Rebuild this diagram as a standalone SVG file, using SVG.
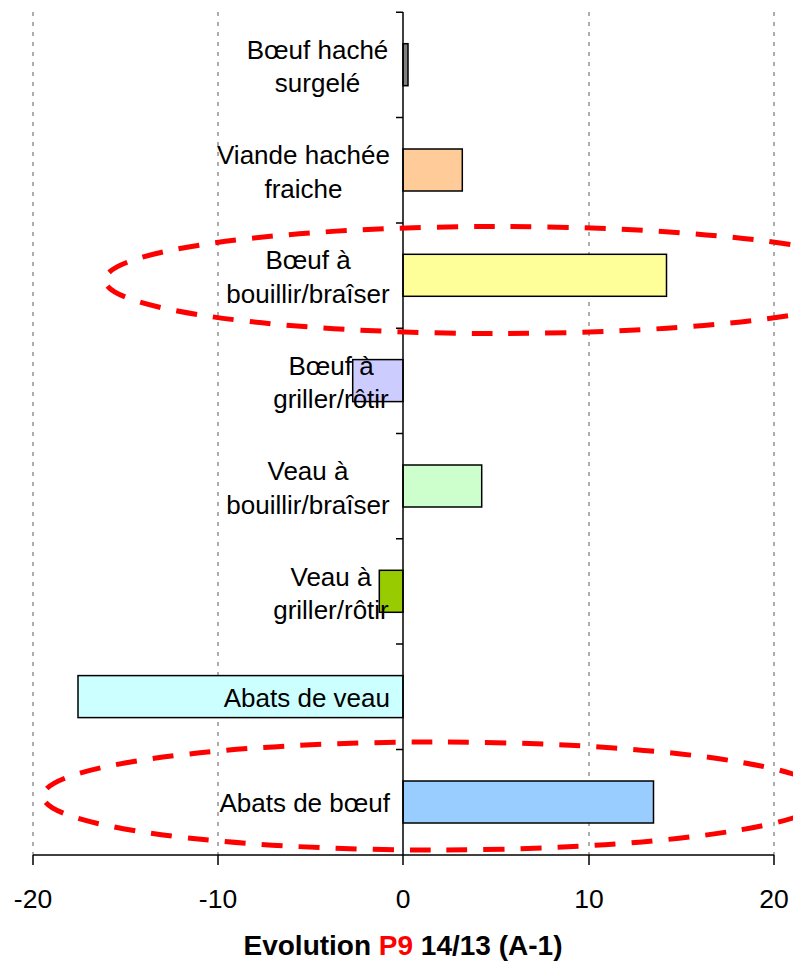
<svg xmlns="http://www.w3.org/2000/svg" width="793" height="963" viewBox="0 0 793 963">
<style>
  .grid { stroke: #999999; stroke-width: 1.6; stroke-dasharray: 4 6; fill: none; }
  .axis { stroke: #000000; stroke-width: 1.5; fill: none; }
  .bar { stroke: #000000; stroke-width: 1.5; }
  .lbl { font-family: "Liberation Sans", Arial, sans-serif; font-size: 26px; fill: #000000; text-anchor: middle; }
  .lblr { font-family: "Liberation Sans", Arial, sans-serif; font-size: 26px; fill: #000000; text-anchor: end; }
  .tick { font-family: "Liberation Sans", Arial, sans-serif; font-size: 26.5px; fill: #000000; text-anchor: middle; }
  .title { font-family: "Liberation Sans", Arial, sans-serif; font-size: 28px; font-weight: bold; fill: #000000; text-anchor: middle; }
  .hl { fill: none; stroke: #FF0000; stroke-width: 5; stroke-dasharray: 21 16; }
</style>
<rect x="0" y="0" width="793" height="963" fill="#FFFFFF"/>
<g id="gridlines">
  <line class="grid" x1="33" y1="12" x2="33" y2="855"/>
  <line class="grid" x1="218" y1="12" x2="218" y2="855"/>
  <line class="grid" x1="589" y1="12" x2="589" y2="855"/>
  <line class="grid" x1="774" y1="12" x2="774" y2="855"/>
</g>
<g id="bars">
  <g id="n1"><rect class="bar" x="403" y="43.7" width="5" height="42" fill="#808080"/></g>
  <g id="n2"><rect class="bar" x="403" y="149" width="59.3" height="42" fill="#FFCC99"/></g>
  <g id="n3"><rect class="bar" x="403" y="254.3" width="263.5" height="42" fill="#FFFF99"/></g>
  <g id="n4"><rect class="bar" x="352.7" y="359.6" width="50.3" height="42" fill="#CCCCFF"/></g>
  <g id="n5"><rect class="bar" x="403" y="465" width="78.7" height="42" fill="#CCFFCC"/></g>
  <g id="n6"><rect class="bar" x="379.3" y="570.3" width="23.7" height="42" fill="#99CC00"/></g>
  <g id="n7"><rect class="bar" x="78" y="675.6" width="325" height="42" fill="#CCFFFF"/></g>
  <g id="n8"><rect class="bar" x="403" y="781" width="250.5" height="42" fill="#99CCFF"/></g>
</g>
<g id="connectors">
  <line class="axis" x1="403" y1="12" x2="403" y2="855"/>
  <line class="axis" x1="33" y1="855" x2="774" y2="855"/>
  <path class="axis" d="M396,12.3H403M396,117.6H403M396,222.9H403M396,328.2H403M396,433.5H403M396,538.8H403M396,644.1H403M396,749.4H403"/>
  <path class="axis" d="M33,855V865M218,855V865M403,855V865M589,855V865M774,855V865"/>
</g>
<g id="labels">
  <text class="lbl" x="317.5" y="59">Bœuf haché</text>
  <text class="lbl" x="317.5" y="92">surgelé</text>
  <text class="lbl" x="303.5" y="164">Viande hachée</text>
  <text class="lbl" x="303.5" y="197.5">fraiche</text>
  <text class="lbl" x="308" y="269">Bœuf à</text>
  <text class="lbl" x="308" y="302.5">bouillir/braîser</text>
  <text class="lbl" x="331" y="374.5">Bœuf à</text>
  <text class="lbl" x="331" y="408">griller/rôtir</text>
  <text class="lbl" x="308" y="480">Veau à</text>
  <text class="lbl" x="308" y="513.5">bouillir/braîser</text>
  <text class="lbl" x="331" y="585.5">Veau à</text>
  <text class="lbl" x="331" y="619">griller/rôtir</text>
  <text class="lblr" x="390" y="707">Abats de veau</text>
  <text class="lblr" x="390" y="812">Abats de bœuf</text>
</g>
<g id="ticklabels">
  <text class="tick" x="33" y="908">-20</text>
  <text class="tick" x="218" y="908">-10</text>
  <text class="tick" x="403" y="908">0</text>
  <text class="tick" x="589" y="908">10</text>
  <text class="tick" x="774" y="908">20</text>
</g>
<g id="title">
  <text class="title" x="403" y="955">Evolution <tspan fill="#FF0000">P9</tspan> 14/13 (A-1)</text>
</g>
<g id="highlights">
  <ellipse class="hl" cx="497" cy="280" rx="392" ry="53.5"/>
  <ellipse class="hl" cx="435" cy="796" rx="392" ry="54"/>
</g>
</svg>
